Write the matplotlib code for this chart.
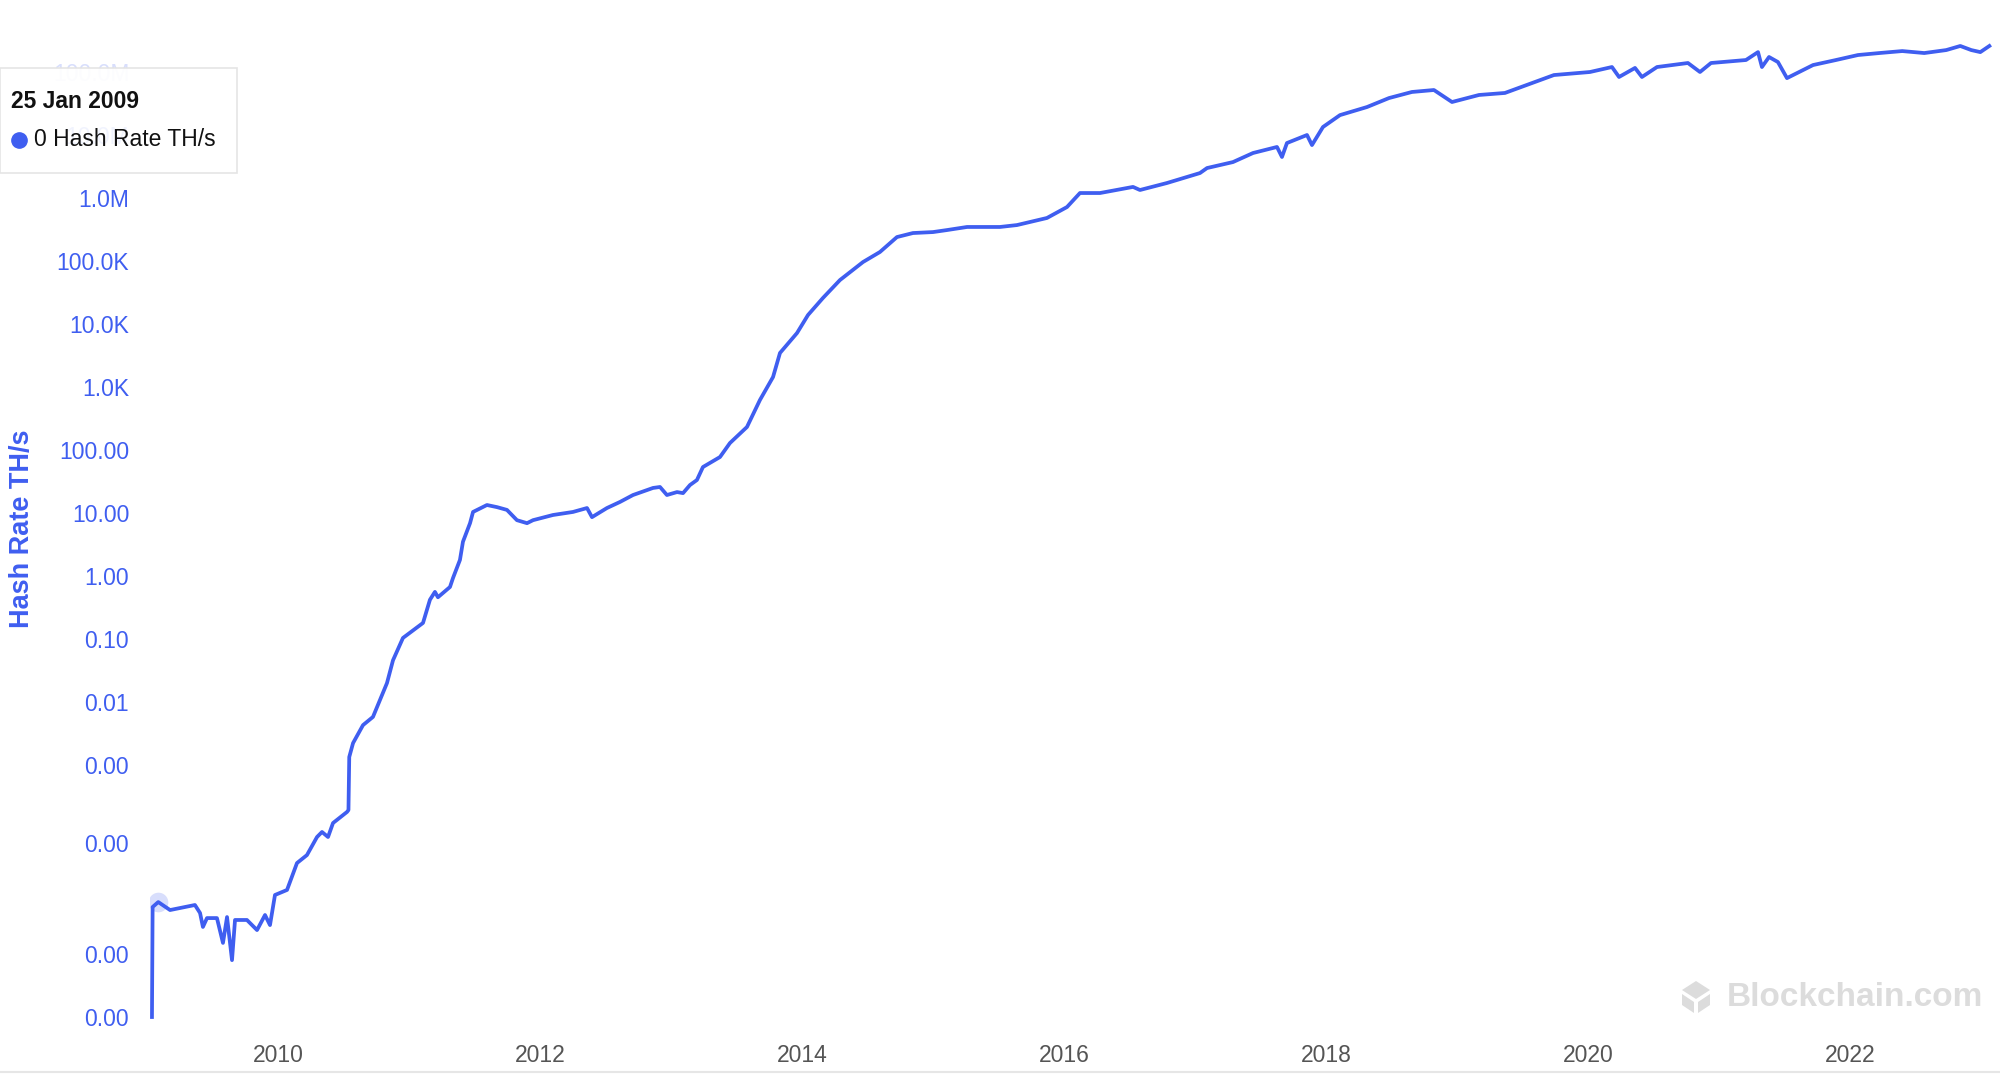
import matplotlib
matplotlib.use("Agg")
import matplotlib.pyplot as plt
from matplotlib.patches import Rectangle, Polygon
from matplotlib.lines import Line2D

plt.rcParams['font.family'] = ['Liberation Sans', 'DejaVu Sans']

# hash rate (TH/s), dates as fractional years
years = [
    2009.038, 2009.043, 2009.086, 2009.176, 2009.252, 2009.366, 2009.405, 2009.427,
    2009.458, 2009.534, 2009.580, 2009.611, 2009.649, 2009.672, 2009.763, 2009.840,
    2009.901, 2009.939, 2009.977, 2010.069, 2010.145, 2010.221, 2010.298, 2010.336,
    2010.382, 2010.420, 2010.527, 2010.538, 2010.544, 2010.573, 2010.649, 2010.725,
    2010.779, 2010.832, 2010.878, 2010.954, 2011.107, 2011.160, 2011.198, 2011.221,
    2011.313, 2011.336, 2011.389, 2011.412, 2011.466, 2011.489, 2011.595, 2011.672,
    2011.748, 2011.824, 2011.901, 2011.947, 2012.099, 2012.252, 2012.359, 2012.397,
    2012.511, 2012.611, 2012.710, 2012.863, 2012.916, 2012.969, 2013.046, 2013.092,
    2013.145, 2013.198, 2013.244, 2013.374, 2013.450, 2013.580, 2013.679, 2013.779,
    2013.832, 2013.962, 2014.046, 2014.160, 2014.290, 2014.466, 2014.595, 2014.725,
    2014.847, 2015.000, 2015.107, 2015.260, 2015.511, 2015.641, 2015.870, 2016.023,
    2016.122, 2016.275, 2016.527, 2016.580, 2016.786, 2017.038, 2017.092, 2017.290,
    2017.443, 2017.626, 2017.664, 2017.702, 2017.855, 2017.893, 2017.977, 2018.107,
    2018.313, 2018.481, 2018.656, 2018.824, 2018.962, 2019.168, 2019.366, 2019.573,
    2019.740, 2020.015, 2020.183, 2020.237, 2020.359, 2020.412, 2020.527, 2020.763,
    2020.855, 2020.939, 2021.206, 2021.298, 2021.328, 2021.382, 2021.450, 2021.519,
    2021.718, 2021.893, 2022.061, 2022.224, 2022.399, 2022.567, 2022.735, 2022.842,
    2022.926, 2022.995, 2023.064,
]
hash_rate = [
    1.0e-7, 5.57e-6, 6.68e-6, 4.99e-6, 5.37e-6, 6.0e-6, 4.48e-6, 2.69e-6,
    3.72e-6, 3.72e-6, 1.50e-6, 3.86e-6, 8.0e-7, 3.47e-6, 3.47e-6, 2.40e-6,
    4.16e-6, 2.88e-6, 8.65e-6, 1.04e-5, 2.78e-5, 3.72e-5, 7.2e-5, 8.65e-5,
    7.2e-5, 1.2e-4, 1.8e-4, 1.93e-4, 1.34e-3, 2.23e-3, 4.3e-3, 5.8e-3,
    0.0108, 0.020, 0.046, 0.104, 0.18, 0.42, 0.56, 0.46,
    0.67, 0.93, 1.8, 3.5, 6.9, 10.4, 13.4, 12.4,
    11.2, 7.7, 6.9, 7.7, 9.3, 10.4, 12.0, 8.6,
    12.0, 15.0, 19.3, 25.0, 25.9, 19.3, 21.5, 20.7,
    27.8, 33.4, 53.7, 77.4, 129, 232, 622, 1440,
    3470, 7190, 13900, 25900, 49900, 96400, 139000, 240000,
    278000, 288000, 310000, 347000, 347000, 372000, 482000, 719000,
    1.2e6, 1.2e6, 1.5e6, 1.34e6, 1.73e6, 2.49e6, 2.99e6, 3.72e6,
    5.18e6, 6.46e6, 4.48e6, 7.46e6, 1.0e7, 6.93e6, 1.34e7, 2.07e7,
    2.78e7, 3.86e7, 4.82e7, 5.18e7, 3.34e7, 4.32e7, 4.65e7, 6.68e7,
    8.95e7, 1.0e8, 1.2e8, 8.34e7, 1.16e8, 8.34e7, 1.2e8, 1.39e8,
    1.0e8, 1.39e8, 1.55e8, 2.07e8, 1.2e8, 1.73e8, 1.44e8, 8.0e7,
    1.29e8, 1.55e8, 1.86e8, 2.0e8, 2.15e8, 2.0e8, 2.23e8, 2.59e8,
    2.23e8, 2.07e8, 2.59e8,
]

y_ticks = [1e-7, 1e-6, 5.75e-5, 1e-3, 1e-2, 1e-1, 1, 10, 100,
           1e3, 1e4, 1e5, 1e6, 1e7, 1e8]
y_labels = ['0.00', '0.00', '0.00', '0.00', '0.01', '0.10', '1.00', '10.00', '100.00',
            '1.0K', '10.0K', '100.0K', '1.0M', '10.0M', '100.0M']
x_ticks = [2010, 2012, 2014, 2016, 2018, 2020, 2022]

tooltip_date = '25 Jan 2009'
tooltip_value = '0 Hash Rate TH/s'

BLUE = '#3f5ef0'
W, H = 2000, 1074


def fx(px):
    return px / W


def fy(py):
    return 1 - py / H


fig = plt.figure(figsize=(20, 10.74), dpi=100)
ax = fig.add_axes([fx(150), fy(1030), fx(1995) - fx(150), fy(0) - fy(1030)])

ax.plot(years, hash_rate, color=BLUE, lw=2.7, solid_joinstyle='round')
# hover halo on the highlighted point
ax.scatter([years[2]], [hash_rate[2]], s=200, color=BLUE, alpha=0.2, lw=0, zorder=3)

ax.set_yscale('log')
ax.set_ylim(10 ** -7.206, 10 ** 9.143)
ax.set_xlim(2009.023, 2023.107)
ax.minorticks_off()

ax.set_yticks(y_ticks)
ax.set_yticklabels(y_labels)
ax.set_xticks(x_ticks)
ax.set_xticklabels([str(x) for x in x_ticks])
ax.tick_params(axis='y', length=0, pad=15, labelsize=16.5, labelcolor=BLUE)
ax.tick_params(axis='x', length=0, pad=10, labelsize=16.5, labelcolor='#555555')
ax.get_yticklabels()[-1].set_alpha(0.2)

for s in ax.spines.values():
    s.set_visible(False)

fig.text(fx(22), fy(529), 'Hash Rate TH/s', rotation=90, ha='center', va='center',
         fontsize=19.5, fontweight='bold', color=BLUE)

# bottom border
fig.add_artist(Line2D([0, 1], [fy(1072), fy(1072)], color='#e6e6e6', lw=1.5,
                      transform=fig.transFigure))

# watermark
fig.text(fx(1727), fy(997), 'Blockchain.com', ha='left', va='center',
         fontsize=24, fontweight='bold', color='#dcdcdc')
logo_parts = [
    [(1696, 981), (1710, 990), (1696, 999), (1682, 990)],
    [(1682, 994), (1694, 1002), (1694, 1013), (1682, 1005)],
    [(1710, 994), (1698, 1002), (1698, 1013), (1710, 1005)],
]
for part in logo_parts:
    fig.add_artist(Polygon([(fx(a), fy(b)) for a, b in part], closed=True,
                           facecolor='#dcdcdc', edgecolor='none',
                           transform=fig.transFigure))

# tooltip box
fig.add_artist(Rectangle((fx(0), fy(173)), fx(237), fy(68) - fy(173),
                         transform=fig.transFigure, facecolor='white', alpha=0.93,
                         edgecolor='#e3e3e3', lw=1.2, zorder=5))
fig.text(fx(11), fy(101), tooltip_date, ha='left', va='center', fontsize=16.5,
         fontweight='bold', color='#111111', zorder=6)
fig.add_artist(Line2D([fx(19)], [fy(140)], marker='o', markersize=11,
                      color=BLUE, lw=0, transform=fig.transFigure, zorder=6))
fig.text(fx(34), fy(140), tooltip_value, ha='left', va='center', fontsize=16.5,
         color='#111111', zorder=6)

fig.savefig('out.png', dpi=100, facecolor='white')
